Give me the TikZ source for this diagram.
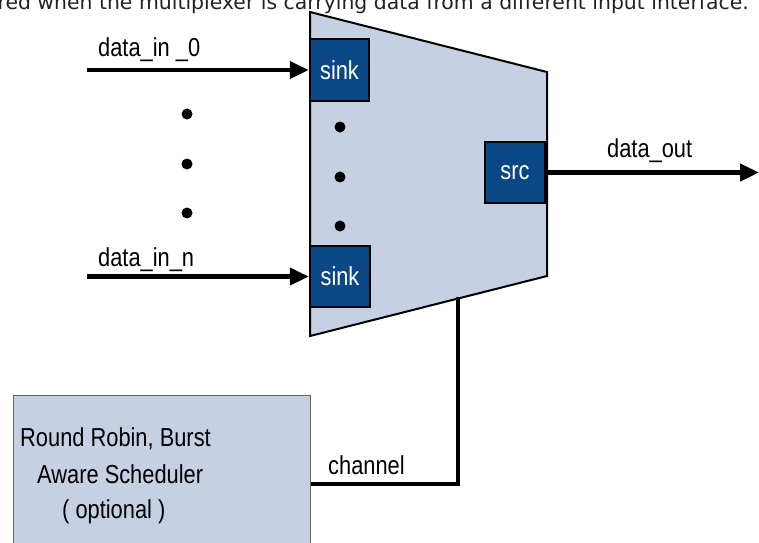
\documentclass[tikz,border=0pt]{standalone}
\usepackage{fontspec}
\setmainfont{Liberation Sans}[FakeStretch=0.84]
\newfontfamily\capfont{DejaVu Sans}
\usetikzlibrary{arrows.meta}
\definecolor{trapfill}{HTML}{C5D0E2}
\definecolor{portfill}{HTML}{0B4785}
\definecolor{capcol}{HTML}{222222}
\tikzset{
  lbl/.style={anchor=base west, inner sep=0pt, font=\fontsize{26}{30}\selectfont},
  port/.style={draw=black, line width=2.5pt, fill=portfill, text=white, inner sep=0pt,
    font=\fontsize{26}{30}\selectfont},
  sig/.style={line width=4.5pt, -{Triangle[length=19pt,width=17pt]}},
  wire/.style={line width=4.5pt},
  dot/.style={circle, fill=black, inner sep=0pt, minimum size=11pt},
  schedbox/.style={draw=black!60, line width=1pt, fill=trapfill, inner sep=0pt}
}
\begin{document}
\begin{tikzpicture}[x=1pt,y=-1pt]
\useasboundingbox (0,0) rectangle (759,542);
% clipped caption line at the top
\node[anchor=base east, inner sep=0pt, text=capcol, font=\capfont\fontsize{20.4}{24}\selectfont]
  (cap) at (749,9) {red when the multiplexer is carrying data from a different input interface.};
% multiplexer body
\draw[line width=2pt, fill=trapfill] (310,12) -- (547,72) -- (547,276) -- (310,336) -- cycle;
% ports
\node[port, minimum width=59pt, minimum height=62pt] (sink0) at (339.5,70) {sink};
\node[port, minimum width=60pt, minimum height=61pt] (sinkn) at (340,276.5) {sink};
\node[port, minimum width=60pt, minimum height=61pt] (src) at (515,172.5) {src};
% dots inside
\node[dot] (d1) at (340,127) {};
\node[dot] (d2) at (340,177) {};
\node[dot] (d3) at (340,226) {};
% dots outside
\node[dot] (e1) at (187,114) {};
\node[dot] (e2) at (187,164) {};
\node[dot] (e3) at (187,213) {};
% inputs
\coordinate (in0) at (87,70);
\coordinate (inn) at (87,276.5);
\draw[sig] (in0) -- (sink0.west);
\draw[sig] (inn) -- (sinkn.west);
\node[lbl] (l0) at (98,56) {data\_in \_0};
\node[lbl] (ln) at (98,266) {data\_in\_n};
% output
\coordinate (out) at (759,172.5);
\draw[sig] (src.east) -- (out);
\node[lbl] (lo) at (607,157) {data\_out};
% scheduler
\node[schedbox, minimum width=297pt, minimum height=178pt] (sched) at (161.5,484) {};
\node[lbl] (s1) at (20,446) {Round Robin, Burst};
\node[lbl] (s2) at (37,483) {Aware Scheduler};
\node[lbl] (s3) at (62,518) {( optional )};
% channel connection
\coordinate (chan) at (458,297);
\draw[wire] (sched.east) -| (chan);
\node[lbl] (lc) at (328,474) {channel};
\end{tikzpicture}
\end{document}
